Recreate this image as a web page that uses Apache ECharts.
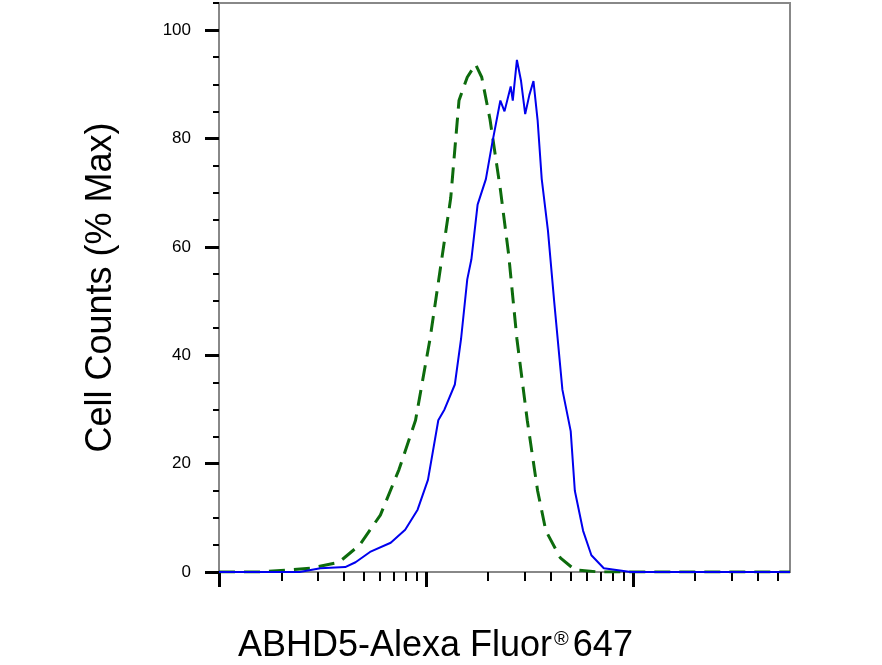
<!DOCTYPE html>
<html><head><meta charset="utf-8">
<script src="https://cdn.jsdelivr.net/npm/echarts@6/dist/echarts.min.js"></script>
<style>body{margin:0}#main{width:882px;height:665px}</style>
</head><body><div id="main"></div>
<script>
var chartDom = document.getElementById('main');
var myChart = echarts.init(chartDom);
// x in decades of fluorescence (log10), y in % max
var blue = [[0,0],[0.39,0],[0.49,0.7],[0.61,0.9],[0.66,1.8],[0.73,3.7],[0.83,5.4],[0.90,7.8],[0.96,11.5],[1.01,17],[1.06,28],[1.09,30],[1.14,34.6],[1.17,43],[1.20,54],[1.22,57.7],[1.25,67.8],[1.29,72.5],[1.32,79],[1.36,87],[1.38,85],[1.41,89.6],[1.42,87],[1.44,94.5],[1.46,90.6],[1.48,84.5],[1.50,88],[1.52,90.6],[1.54,83.4],[1.56,72.5],[1.59,63],[1.62,50],[1.66,33.6],[1.70,26],[1.72,15],[1.76,7.6],[1.80,3.1],[1.86,0.7],[1.99,0],[2.76,0]];
var green = [[0,0],[0.2,0],[0.44,0.7],[0.58,1.8],[0.68,5],[0.78,10.5],[0.87,18.9],[0.95,28],[1.02,43],[1.07,56],[1.12,69],[1.16,87],[1.20,91.3],[1.24,93.7],[1.27,91.3],[1.31,83.5],[1.36,70.6],[1.40,58.6],[1.44,43],[1.49,28],[1.54,15],[1.58,7.6],[1.65,2.6],[1.72,0.4],[1.84,0],[2.76,0]];
var yLabels = [0,20,40,60,80,100];
var yMinor = [];
for (let v = 0; v <= 105; v += 5) yMinor.push(v);
var xMajor = [0,1,2];
var xMinor = [];
for (let d = 0; d < 3; d++) for (let k = 2; k <= 9; k++) { let v = d + Math.log10(k); if (v <= 2.76) xMinor.push(v); }

var option = {
  animation: false,
  grid: {left: 219, right: 92, top: 3, bottom: 93, show: true, borderColor: '#888', borderWidth: 2},
  graphic: [{type: 'text', left: 238, top: 628,
    style: {rich: {a: {fontFamily: 'Liberation Sans', fontSize: 36, fill: '#000'},
       s: {fontFamily: 'Liberation Sans', fontSize: 20, fill: '#000', padding: [0,4,14,2]}},
      text: '{a|ABHD5-Alexa Fluor}{s|®}{a|647}'}}],
  xAxis: [
    {type: 'value', min: 0, max: 2.76, axisLine: {lineStyle: {color: '#888', width: 2}},
     axisTick: {customValues: xMajor, length: 15, lineStyle: {color: '#000', width: 3}},
     axisLabel: {show: false}, splitLine: {show: false}},
    {type: 'value', min: 0, max: 2.76, position: 'bottom', axisLine: {show: false},
     axisTick: {customValues: xMinor, length: 9, lineStyle: {color: '#000', width: 2}},
     axisLabel: {show: false}, splitLine: {show: false}}
  ],
  yAxis: [
    {type: 'value', min: 0, max: 105, axisLine: {lineStyle: {color: '#888', width: 2}},
     axisTick: {customValues: yLabels, length: 14, lineStyle: {color: '#000', width: 3}},
     axisLabel: {customValues: yLabels, fontFamily: 'Liberation Sans', fontSize: 17, color: '#000', margin: 28},
     splitLine: {show: false},
     name: 'Cell Counts (% Max)', nameLocation: 'middle', nameGap: 100,
     nameTextStyle: {fontFamily: 'Liberation Sans', fontSize: 36, color: '#000'}},
    {type: 'value', min: 0, max: 105, position: 'left', axisLine: {show: false},
     axisTick: {customValues: yMinor, length: 6, lineStyle: {color: '#000', width: 2}},
     axisLabel: {show: false}, splitLine: {show: false}}
  ],
  series: [
    {type: 'line', data: green, showSymbol: false, lineStyle: {color: '#0d6b0d', width: 3, type: [16, 9]}},
    {type: 'line', data: blue, showSymbol: false, lineStyle: {color: '#0000ee', width: 2}}
  ]
};
myChart.setOption(option);
</script></body></html>
